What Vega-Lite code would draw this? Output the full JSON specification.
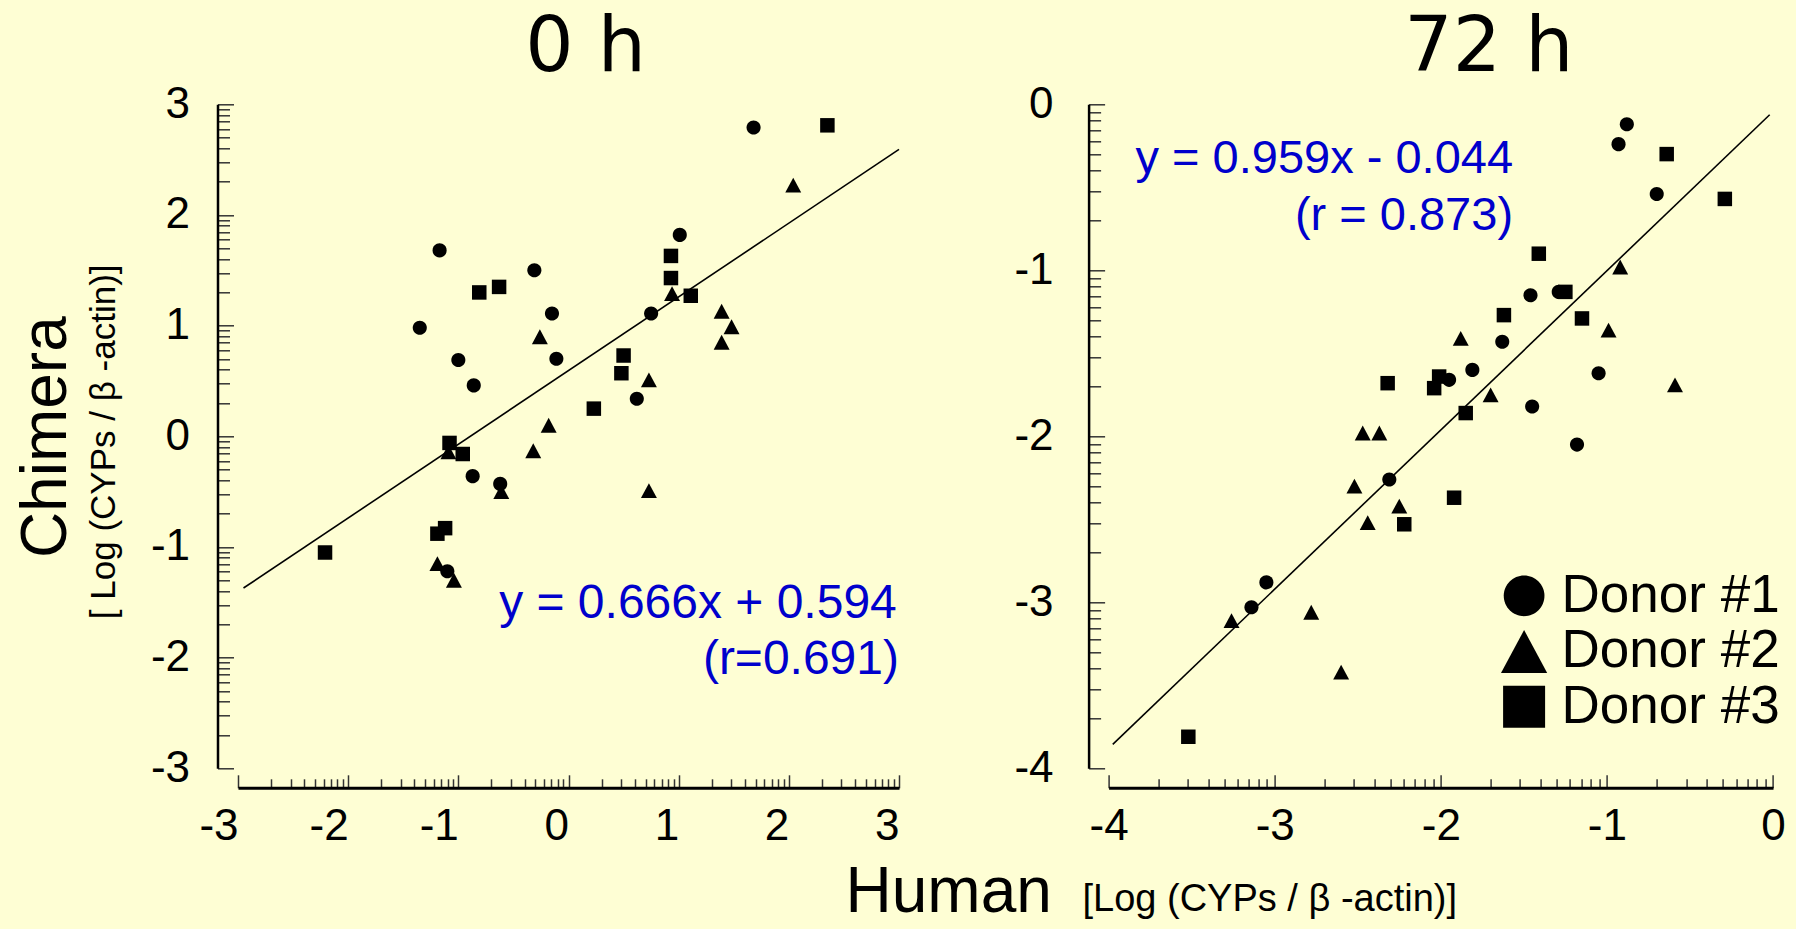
{
  "$schema": "https://vega.github.io/schema/vega-lite/v6.json",
  "autosize": {"type": "none"},
  "padding": {"left": 238, "top": 104.3, "right": 1558, "bottom": 824.7},
  "background": "#FEFED4",
  "config": {
    "view": {"stroke": null},
    "font": "Liberation Sans",
    "axis": {"grid": false}
  },
  "datasets": {
    "points": [
      {"p": "0h", "donor": "Donor #1", "human": 1.68, "chimera": 2.79},
      {"p": "0h", "donor": "Donor #1", "human": 1.01, "chimera": 1.82},
      {"p": "0h", "donor": "Donor #1", "human": -1.17, "chimera": 1.68},
      {"p": "0h", "donor": "Donor #1", "human": -0.31, "chimera": 1.5},
      {"p": "0h", "donor": "Donor #1", "human": -0.15, "chimera": 1.11},
      {"p": "0h", "donor": "Donor #1", "human": 0.75, "chimera": 1.11},
      {"p": "0h", "donor": "Donor #1", "human": -1.35, "chimera": 0.98},
      {"p": "0h", "donor": "Donor #1", "human": -1.0, "chimera": 0.69},
      {"p": "0h", "donor": "Donor #1", "human": -0.11, "chimera": 0.7},
      {"p": "0h", "donor": "Donor #1", "human": -0.86, "chimera": 0.46},
      {"p": "0h", "donor": "Donor #1", "human": 0.62, "chimera": 0.34},
      {"p": "0h", "donor": "Donor #1", "human": -0.87, "chimera": -0.36},
      {"p": "0h", "donor": "Donor #1", "human": -0.62, "chimera": -0.43},
      {"p": "0h", "donor": "Donor #1", "human": -1.1, "chimera": -1.22},
      {"p": "0h", "donor": "Donor #2", "human": 2.04, "chimera": 2.27},
      {"p": "0h", "donor": "Donor #2", "human": 0.94, "chimera": 1.29},
      {"p": "0h", "donor": "Donor #2", "human": 1.39, "chimera": 1.13},
      {"p": "0h", "donor": "Donor #2", "human": 1.48, "chimera": 0.99},
      {"p": "0h", "donor": "Donor #2", "human": 1.39, "chimera": 0.85},
      {"p": "0h", "donor": "Donor #2", "human": -0.26, "chimera": 0.9},
      {"p": "0h", "donor": "Donor #2", "human": 0.73, "chimera": 0.51},
      {"p": "0h", "donor": "Donor #2", "human": -0.18, "chimera": 0.1},
      {"p": "0h", "donor": "Donor #2", "human": -0.32, "chimera": -0.13},
      {"p": "0h", "donor": "Donor #2", "human": -0.61, "chimera": -0.5},
      {"p": "0h", "donor": "Donor #2", "human": 0.73, "chimera": -0.49},
      {"p": "0h", "donor": "Donor #2", "human": -1.19, "chimera": -1.15},
      {"p": "0h", "donor": "Donor #2", "human": -1.04, "chimera": -1.3},
      {"p": "0h", "donor": "Donor #2", "human": -1.09, "chimera": -0.14},
      {"p": "0h", "donor": "Donor #3", "human": 2.35, "chimera": 2.81},
      {"p": "0h", "donor": "Donor #3", "human": 0.93, "chimera": 1.63},
      {"p": "0h", "donor": "Donor #3", "human": 0.93, "chimera": 1.43},
      {"p": "0h", "donor": "Donor #3", "human": 1.11, "chimera": 1.27},
      {"p": "0h", "donor": "Donor #3", "human": -0.81, "chimera": 1.3},
      {"p": "0h", "donor": "Donor #3", "human": -0.63, "chimera": 1.35},
      {"p": "0h", "donor": "Donor #3", "human": 0.5, "chimera": 0.73},
      {"p": "0h", "donor": "Donor #3", "human": 0.48, "chimera": 0.57},
      {"p": "0h", "donor": "Donor #3", "human": 0.23, "chimera": 0.25},
      {"p": "0h", "donor": "Donor #3", "human": -1.08, "chimera": -0.06},
      {"p": "0h", "donor": "Donor #3", "human": -0.96, "chimera": -0.16},
      {"p": "0h", "donor": "Donor #3", "human": -1.12, "chimera": -0.83},
      {"p": "0h", "donor": "Donor #3", "human": -1.19, "chimera": -0.88},
      {"p": "0h", "donor": "Donor #3", "human": -2.21, "chimera": -1.05},
      {"p": "72h", "donor": "Donor #1", "human": -0.88, "chimera": -0.12},
      {"p": "72h", "donor": "Donor #1", "human": -0.93, "chimera": -0.24},
      {"p": "72h", "donor": "Donor #1", "human": -0.7, "chimera": -0.54},
      {"p": "72h", "donor": "Donor #1", "human": -1.46, "chimera": -1.15},
      {"p": "72h", "donor": "Donor #1", "human": -1.29, "chimera": -1.13},
      {"p": "72h", "donor": "Donor #1", "human": -1.63, "chimera": -1.43},
      {"p": "72h", "donor": "Donor #1", "human": -1.81, "chimera": -1.6},
      {"p": "72h", "donor": "Donor #1", "human": -1.95, "chimera": -1.66},
      {"p": "72h", "donor": "Donor #1", "human": -1.05, "chimera": -1.62},
      {"p": "72h", "donor": "Donor #1", "human": -1.45, "chimera": -1.82},
      {"p": "72h", "donor": "Donor #1", "human": -1.18, "chimera": -2.05},
      {"p": "72h", "donor": "Donor #1", "human": -2.31, "chimera": -2.26},
      {"p": "72h", "donor": "Donor #1", "human": -3.05, "chimera": -2.88},
      {"p": "72h", "donor": "Donor #1", "human": -3.14, "chimera": -3.03},
      {"p": "72h", "donor": "Donor #2", "human": -0.92, "chimera": -0.98},
      {"p": "72h", "donor": "Donor #2", "human": -0.99, "chimera": -1.36},
      {"p": "72h", "donor": "Donor #2", "human": -0.59, "chimera": -1.69},
      {"p": "72h", "donor": "Donor #2", "human": -1.88, "chimera": -1.41},
      {"p": "72h", "donor": "Donor #2", "human": -1.7, "chimera": -1.75},
      {"p": "72h", "donor": "Donor #2", "human": -2.47, "chimera": -1.98},
      {"p": "72h", "donor": "Donor #2", "human": -2.37, "chimera": -1.98},
      {"p": "72h", "donor": "Donor #2", "human": -2.52, "chimera": -2.3},
      {"p": "72h", "donor": "Donor #2", "human": -2.25, "chimera": -2.42},
      {"p": "72h", "donor": "Donor #2", "human": -2.44, "chimera": -2.52},
      {"p": "72h", "donor": "Donor #2", "human": -3.26, "chimera": -3.11},
      {"p": "72h", "donor": "Donor #2", "human": -2.78, "chimera": -3.06},
      {"p": "72h", "donor": "Donor #2", "human": -2.6, "chimera": -3.42},
      {"p": "72h", "donor": "Donor #3", "human": -0.64, "chimera": -0.3},
      {"p": "72h", "donor": "Donor #3", "human": -0.29, "chimera": -0.57},
      {"p": "72h", "donor": "Donor #3", "human": -1.41, "chimera": -0.9},
      {"p": "72h", "donor": "Donor #3", "human": -1.25, "chimera": -1.13},
      {"p": "72h", "donor": "Donor #3", "human": -1.62, "chimera": -1.27},
      {"p": "72h", "donor": "Donor #3", "human": -1.15, "chimera": -1.29},
      {"p": "72h", "donor": "Donor #3", "human": -2.32, "chimera": -1.68},
      {"p": "72h", "donor": "Donor #3", "human": -2.01, "chimera": -1.64},
      {"p": "72h", "donor": "Donor #3", "human": -2.04, "chimera": -1.71},
      {"p": "72h", "donor": "Donor #3", "human": -1.85, "chimera": -1.86},
      {"p": "72h", "donor": "Donor #3", "human": -1.92, "chimera": -2.37},
      {"p": "72h", "donor": "Donor #3", "human": -2.22, "chimera": -2.53},
      {"p": "72h", "donor": "Donor #3", "human": -3.52, "chimera": -3.81}
    ],
    "fits": [
      {"p": "0h", "human": -2.95, "chimera": -1.371},
      {"p": "0h", "human": 3.0, "chimera": 2.592},
      {"p": "72h", "human": -3.975, "chimera": -3.856},
      {"p": "72h", "human": -0.02, "chimera": -0.063}
    ],
    "eqs": [
      {"p": "0h", "human": 2.98, "chimera": -1.638, "label": "y = 0.666x + 0.594"},
      {"p": "0h", "human": 3.0, "chimera": -2.145, "label": "(r=0.691)"},
      {"p": "72h", "human": -1.565, "chimera": -0.414, "label": "y = 0.959x - 0.044"},
      {"p": "72h", "human": -1.565, "chimera": -0.758, "label": "(r = 0.873)"}
    ]
  },
  "bounds": "flush",
  "spacing": 209.6,
  "resolve": {"scale": {"shape": "independent"}, "legend": {"shape": "independent"}},
  "hconcat": [
    {
      "width": 661,
      "height": 664,
      "title": {
        "text": "0 h",
        "font": "DejaVu Sans",
        "fontSize": 76,
        "fontWeight": "normal",
        "color": "black",
        "frame": "group",
        "anchor": "middle",
        "dx": 17,
        "offset": -65,
        "baseline": "alphabetic"
      },
      "layer": [
        {
          "data": {"name": "points"},
          "transform": [{"filter": "datum.p === '0h'"}],
          "mark": {"type": "point", "filled": true, "opacity": 1, "color": "black", "size": 210, "strokeWidth": 0},
          "encoding": {
            "x": {
              "field": "human", "type": "quantitative",
              "scale": {"domain": [-3, 3], "nice": false, "zero": false},
              "axis": {
                "values": [-3,-2.69897,-2.52288,-2.39794,-2.30103,-2.22185,-2.1549,-2.09691,-2.04576,-2,-1.69897,-1.52288,-1.39794,-1.30103,-1.22185,-1.1549,-1.09691,-1.04576,-1,-0.69897,-0.52288,-0.39794,-0.30103,-0.22185,-0.1549,-0.09691,-0.04576,0,0.30103,0.47712,0.60206,0.69897,0.77815,0.8451,0.90309,0.95424,1,1.30103,1.47712,1.60206,1.69897,1.77815,1.8451,1.90309,1.95424,2,2.30103,2.47712,2.60206,2.69897,2.77815,2.8451,2.90309,2.95424,3],
                "tickCount": 200,
                "labelExpr": "datum.value % 1 === 0 ? '' + datum.value : ''",
                "labelFont": "Liberation Sans", "labelFontSize": 44, "labelColor": "black",
                "labelPadding": 30, "labelAlign": "right", "labelDx": 12,
                "labelOverlap": false, "labelFlush": false, "labelBound": false,
                "tickSize": -13, "tickWidth": 1.5, "tickColor": "#333333",
                "tickDash": {"condition": {"test": "datum.value % 1 !== 0", "value": [9, 40]}, "value": [20, 0]},
                "domainColor": "black", "domainWidth": 3, "offset": 19.5,
                "title": "Human",
                "titleFont": "Liberation Sans", "titleFontSize": 64, "titleFontWeight": "normal", "titleColor": "black",
                "titleX": 607, "titleY": 124, "titleAlign": "left", "titleBaseline": "alphabetic", "titleLimit": 2000
              }
            },
            "y": {
              "field": "chimera", "type": "quantitative",
              "scale": {"domain": [-3, 3], "nice": false, "zero": false},
              "axis": {
                "values": [-3,-2.69897,-2.52288,-2.39794,-2.30103,-2.22185,-2.1549,-2.09691,-2.04576,-2,-1.69897,-1.52288,-1.39794,-1.30103,-1.22185,-1.1549,-1.09691,-1.04576,-1,-0.69897,-0.52288,-0.39794,-0.30103,-0.22185,-0.1549,-0.09691,-0.04576,0,0.30103,0.47712,0.60206,0.69897,0.77815,0.8451,0.90309,0.95424,1,1.30103,1.47712,1.60206,1.69897,1.77815,1.8451,1.90309,1.95424,2,2.30103,2.47712,2.60206,2.69897,2.77815,2.8451,2.90309,2.95424,3],
                "tickCount": 200,
                "labelExpr": "datum.value % 1 === 0 ? '' + datum.value : ''",
                "labelFont": "Liberation Sans", "labelFontSize": 44, "labelColor": "black",
                "labelPadding": 44,
                "labelOverlap": false, "labelFlush": false, "labelBound": false,
                "tickSize": -16, "tickWidth": 1.5, "tickColor": "#333333",
                "tickDash": {"condition": {"test": "datum.value % 1 !== 0", "value": [12, 40]}, "value": [20, 0]},
                "domainColor": "black", "domainWidth": 2.5, "offset": 20.5,
                "title": "Chimera",
                "titleFont": "Liberation Sans", "titleFontSize": 64, "titleFontWeight": "normal", "titleColor": "black",
                "titleAngle": 270, "titleX": -152.5, "titleY": 332.4, "titleAlign": "center", "titleBaseline": "alphabetic", "titleLimit": 2000
              }
            },
            "shape": {
              "field": "donor", "type": "nominal",
              "scale": {"domain": ["Donor #1", "Donor #2", "Donor #3"], "range": ["M0.97,0A0.97,0.97,0,1,1,-0.97,0A0.97,0.97,0,1,1,0.97,0Z", "M0,-1.02L1.1,1.03L-1.1,1.03Z", "M-1,-1L1,-1L1,1L-1,1Z"]},
              "legend": null
            }
          }
        },
        {
          "data": {"name": "fits"},
          "transform": [{"filter": "datum.p === '0h'"}],
          "mark": {"type": "line", "color": "black", "strokeWidth": 1.6},
          "encoding": {
            "x": {"field": "human", "type": "quantitative"},
            "y": {"field": "chimera", "type": "quantitative"}
          }
        },
        {
          "data": {"name": "eqs"},
          "transform": [{"filter": "datum.p === '0h'"}],
          "mark": {"type": "text", "align": "right", "baseline": "alphabetic", "font": "Liberation Sans", "fontSize": 48, "color": "#0000CC"},
          "encoding": {
            "x": {"field": "human", "type": "quantitative"},
            "y": {"field": "chimera", "type": "quantitative"},
            "text": {"field": "label", "type": "nominal"}
          }
        }
      ]
    },
    {
      "width": 664.4,
      "height": 664,
      "title": {
        "text": "72 h",
        "font": "DejaVu Sans",
        "fontSize": 76,
        "fontWeight": "normal",
        "color": "black",
        "frame": "group",
        "anchor": "middle",
        "dx": 48,
        "offset": -65,
        "baseline": "alphabetic"
      },
      "layer": [
        {
          "data": {"name": "points"},
          "transform": [{"filter": "datum.p === '72h'"}],
          "mark": {"type": "point", "filled": true, "opacity": 1, "color": "black", "size": 210, "strokeWidth": 0},
          "encoding": {
            "x": {
              "field": "human", "type": "quantitative",
              "scale": {"domain": [-4, 0], "nice": false, "zero": false},
              "axis": {
                "values": [-4,-3.69897,-3.52288,-3.39794,-3.30103,-3.22185,-3.1549,-3.09691,-3.04576,-3,-2.69897,-2.52288,-2.39794,-2.30103,-2.22185,-2.1549,-2.09691,-2.04576,-2,-1.69897,-1.52288,-1.39794,-1.30103,-1.22185,-1.1549,-1.09691,-1.04576,-1,-0.69897,-0.52288,-0.39794,-0.30103,-0.22185,-0.1549,-0.09691,-0.04576,0],
                "tickCount": 200,
                "labelExpr": "datum.value % 1 === 0 ? '' + datum.value : ''",
                "labelFont": "Liberation Sans", "labelFontSize": 44, "labelColor": "black",
                "labelPadding": 30,
                "labelOverlap": false, "labelFlush": false, "labelBound": false,
                "tickSize": -13, "tickWidth": 1.5, "tickColor": "#333333",
                "tickDash": {"condition": {"test": "datum.value % 1 !== 0", "value": [9, 40]}, "value": [20, 0]},
                "domainColor": "black", "domainWidth": 3, "offset": 19.5,
                "title": "[Log (CYPs / β -actin)]",
                "titleFont": "Liberation Sans", "titleFontSize": 38, "titleFontWeight": "normal", "titleColor": "black",
                "titleX": -26.6, "titleY": 122.2, "titleAlign": "left", "titleBaseline": "alphabetic", "titleLimit": 2000
              }
            },
            "y": {
              "field": "chimera", "type": "quantitative",
              "scale": {"domain": [-4, 0], "nice": false, "zero": false},
              "axis": {
                "values": [-4,-3.69897,-3.52288,-3.39794,-3.30103,-3.22185,-3.1549,-3.09691,-3.04576,-3,-2.69897,-2.52288,-2.39794,-2.30103,-2.22185,-2.1549,-2.09691,-2.04576,-2,-1.69897,-1.52288,-1.39794,-1.30103,-1.22185,-1.1549,-1.09691,-1.04576,-1,-0.69897,-0.52288,-0.39794,-0.30103,-0.22185,-0.1549,-0.09691,-0.04576,0],
                "tickCount": 200,
                "labelExpr": "datum.value % 1 === 0 ? '' + datum.value : ''",
                "labelFont": "Liberation Sans", "labelFontSize": 44, "labelColor": "black",
                "labelPadding": 51.6,
                "labelOverlap": false, "labelFlush": false, "labelBound": false,
                "tickSize": -16, "tickWidth": 1.5, "tickColor": "#333333",
                "tickDash": {"condition": {"test": "datum.value % 1 !== 0", "value": [12, 40]}, "value": [20, 0]},
                "domainColor": "black", "domainWidth": 2.5, "offset": 20,
                "title": "[ Log (CYPs / β -actin)]",
                "titleFont": "Liberation Sans", "titleFontSize": 35, "titleFontWeight": "normal", "titleColor": "black",
                "titleAngle": 270, "titleX": -974.1, "titleY": 337, "titleAlign": "center", "titleBaseline": "alphabetic", "titleLimit": 2000
              }
            },
            "shape": {
              "field": "donor", "type": "nominal",
              "scale": {"domain": ["Donor #1", "Donor #2", "Donor #3"], "range": ["M0.97,0A0.97,0.97,0,1,1,-0.97,0A0.97,0.97,0,1,1,0.97,0Z", "M0,-1.02L1.1,1.03L-1.1,1.03Z", "M-1,-1L1,-1L1,1L-1,1Z"]},
              "legend": {
                "title": null,
                "orient": "none",
                "legendX": 389,
                "legendY": 465,
                "padding": 0,
                "symbolSize": 1764,
                "symbolFillColor": "black",
                "symbolStrokeWidth": 0,
                "symbolOpacity": 1,
                "labelFont": "Liberation Sans",
                "labelFontSize": 53,
                "labelColor": "black",
                "labelOffset": 11,
                "labelLimit": 0,
                "rowPadding": 1.5
              }
            }
          }
        },
        {
          "data": {"name": "fits"},
          "transform": [{"filter": "datum.p === '72h'"}],
          "mark": {"type": "line", "color": "black", "strokeWidth": 1.6},
          "encoding": {
            "x": {"field": "human", "type": "quantitative"},
            "y": {"field": "chimera", "type": "quantitative"}
          }
        },
        {
          "data": {"name": "eqs"},
          "transform": [{"filter": "datum.p === '72h'"}],
          "mark": {"type": "text", "align": "right", "baseline": "alphabetic", "font": "Liberation Sans", "fontSize": 47, "color": "#0000CC"},
          "encoding": {
            "x": {"field": "human", "type": "quantitative"},
            "y": {"field": "chimera", "type": "quantitative"},
            "text": {"field": "label", "type": "nominal"}
          }
        }
      ]
    }
  ]
}
